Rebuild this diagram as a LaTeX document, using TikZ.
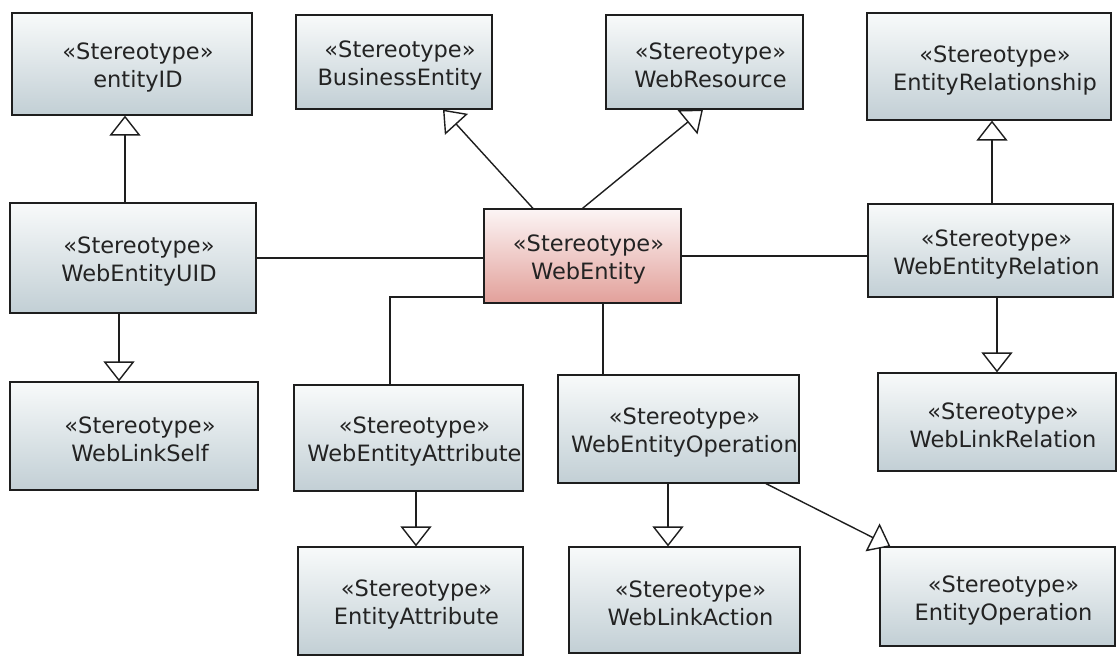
\documentclass[tikz,border=0pt]{standalone}
\usepackage{fontspec}
\setmainfont{DejaVu Sans}
\usetikzlibrary{arrows.meta}
\definecolor{bgtop}{RGB}{248,250,250}
\definecolor{bgbot}{RGB}{194,207,213}
\definecolor{pktop}{RGB}{252,245,245}
\definecolor{pkbot}{RGB}{226,160,154}
\definecolor{edge}{RGB}{30,30,30}
\definecolor{txtc}{RGB}{35,35,35}
\begin{document}
\begin{tikzpicture}[x=1pt,y=-1pt,
  cls/.style={draw=edge, line width=1.2pt, inner sep=0pt, top color=bgtop, bottom color=bgbot,
    path picture={\node[font=\fontsize{22.5}{28}\selectfont, align=center, xshift=6pt, yshift=-3.5pt, text=txtc, inner sep=0pt] at (path picture bounding box.center) {#1};}},
  hot/.style={top color=pktop, bottom color=pkbot},
  gen/.style={draw=edge, line width=1.4pt, -{Triangle[length=20pt,width=31pt,fill=white,line width=1.4pt]}},
  assoc/.style={draw=edge, line width=1.4pt}]
\useasboundingbox[fill=white] (0,0) rectangle (1117,657);

\node[cls={«Stereotype»\\entityID}, minimum width=240pt, minimum height=102pt] (eid) at (132,64) {};
\node[cls={«Stereotype»\\BusinessEntity}, minimum width=196pt, minimum height=94pt] (be) at (394,62) {};
\node[cls={«Stereotype»\\WebResource}, minimum width=197pt, minimum height=94pt] (wr) at (704.5,62) {};
\node[cls={«Stereotype»\\EntityRelationship}, minimum width=244pt, minimum height=107pt] (er) at (989,66.5) {};
\node[cls={«Stereotype»\\WebEntityUID}, minimum width=246pt, minimum height=110pt] (weuid) at (133,258) {};
\node[cls={«Stereotype»\\WebEntity}, hot, minimum width=197pt, minimum height=94pt] (we) at (582.5,256) {};
\node[cls={«Stereotype»\\WebEntityRelation}, minimum width=245pt, minimum height=93pt] (wer) at (990.5,250.5) {};
\node[cls={«Stereotype»\\WebLinkSelf}, minimum width=248pt, minimum height=108pt] (wls) at (134,436) {};
\node[cls={«Stereotype»\\WebEntityAttribute}, minimum width=229pt, minimum height=106pt] (wea) at (408.5,438) {};
\node[cls={«Stereotype»\\WebEntityOperation}, minimum width=241pt, minimum height=108pt] (weo) at (678.5,429) {};
\node[cls={«Stereotype»\\WebLinkRelation}, minimum width=238pt, minimum height=98pt] (wlr) at (997,422) {};
\node[cls={«Stereotype»\\EntityAttribute}, minimum width=225pt, minimum height=108pt] (ea) at (410.5,601) {};
\node[cls={«Stereotype»\\WebLinkAction}, minimum width=231pt, minimum height=106pt] (wla) at (684.5,600) {};
\node[cls={«Stereotype»\\EntityOperation}, minimum width=235pt, minimum height=99pt] (eo) at (997.5,596.5) {};

% generalizations
\draw[gen] ([xshift=-8pt]weuid.north) -- ([xshift=-7pt]eid.south);
\draw[gen] ([xshift=-14pt]weuid.south) -- ([xshift=-15pt]wls.north);
\draw[gen] ([xshift=-49.5pt]we.north) -- ([xshift=49pt]be.south);
\draw[gen] (we.north) -- ([xshift=-1.5pt]wr.south);
\draw[gen] ([xshift=1.5pt]wer.north) -- ([xshift=3pt]er.south);
\draw[gen] ([xshift=6.5pt]wer.south) -- (wlr.north);
\draw[gen] ([xshift=7.5pt]wea.south) -- ([xshift=5.5pt]ea.north);
\draw[gen] ([xshift=-10.5pt]weo.south) -- ([xshift=-16.5pt]wla.north);
\draw[gen] ([xshift=87.5pt]weo.south) -- ([xshift=11pt]eo.north west);

% associations
\draw[assoc] (weuid.east) -- (weuid.east -| we.west);
\draw[assoc] (we.east) -- (we.east -| wer.west);
\draw[assoc] ([yshift=-41pt]we.west) -| ([xshift=-18.5pt]wea.north);
\draw[assoc] ([xshift=20.5pt]we.south) -- ([xshift=20.5pt]we.south |- weo.north);
\end{tikzpicture}
\end{document}
